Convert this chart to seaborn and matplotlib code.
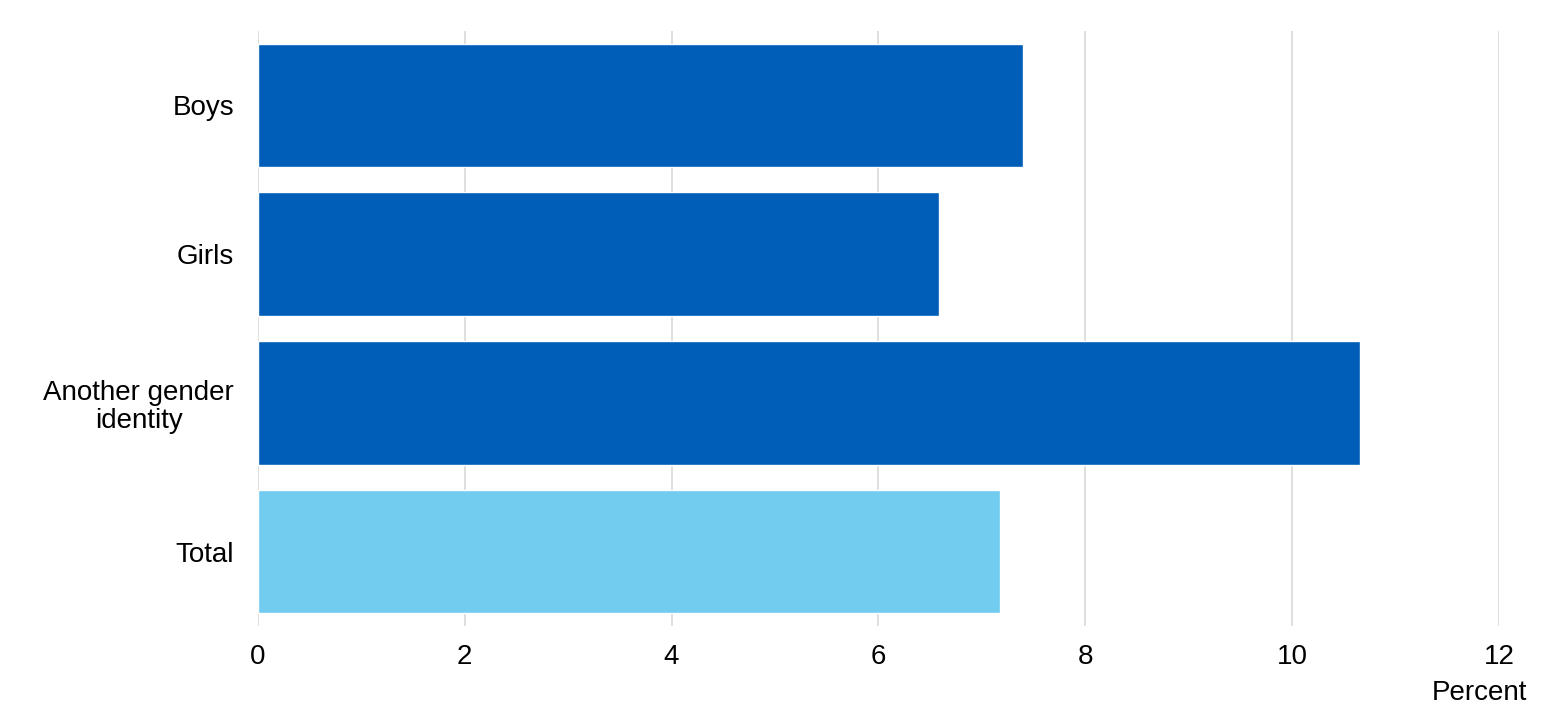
import seaborn as sns
import matplotlib.pyplot as plt
import pandas as pd

categories = ["Boys", "Girls", "Another gender\nidentity", "Total"]
percent = [7.40, 6.58, 10.65, 7.17]
bar_colours = ["#005EB8", "#005EB8", "#005EB8", "#71CCEF"]

if __name__ == '__main__':

    sns.set_theme(style="whitegrid")
    plt.rcParams['font.family'] = ['Liberation Sans', 'DejaVu Sans']

    df = pd.DataFrame({"Group": categories, "Percent": percent})

    fig = plt.figure(figsize=(15.59, 7.16), dpi=100)
    ax = fig.add_axes([0.1652, 0.1257, 0.7966, 0.831])

    sns.barplot(data=df, y="Group", x="Percent", hue="Group",
                palette=bar_colours, legend=False, width=0.83,
                saturation=1, ax=ax)

    ax.set_xlim(0, 12)
    ax.set_xticks(range(0, 13, 2))
    ax.set_ylim(3.5, -0.5)
    ax.grid(axis="x", color="#d9d9d9", linewidth=1.2)
    ax.grid(axis="y", visible=False)
    for s in ax.spines.values():
        s.set_visible(False)
    ax.set_axisbelow(True)
    ax.set_ylabel("")
    ax.set_xlabel("")
    ax.tick_params(axis="both", labelsize=20, colors="black", length=0)
    ax.tick_params(axis="x", pad=13)
    ax.tick_params(axis="y", pad=17)
    for lab in ax.get_yticklabels():
        lab.set_multialignment("center")
        lab.set_linespacing(1.1)

    fig.text(0.9487, 0.032, "Percent", fontsize=20, ha="center", va="center",
             color="black")

    plt.savefig("out.png", dpi=100, facecolor="white")
